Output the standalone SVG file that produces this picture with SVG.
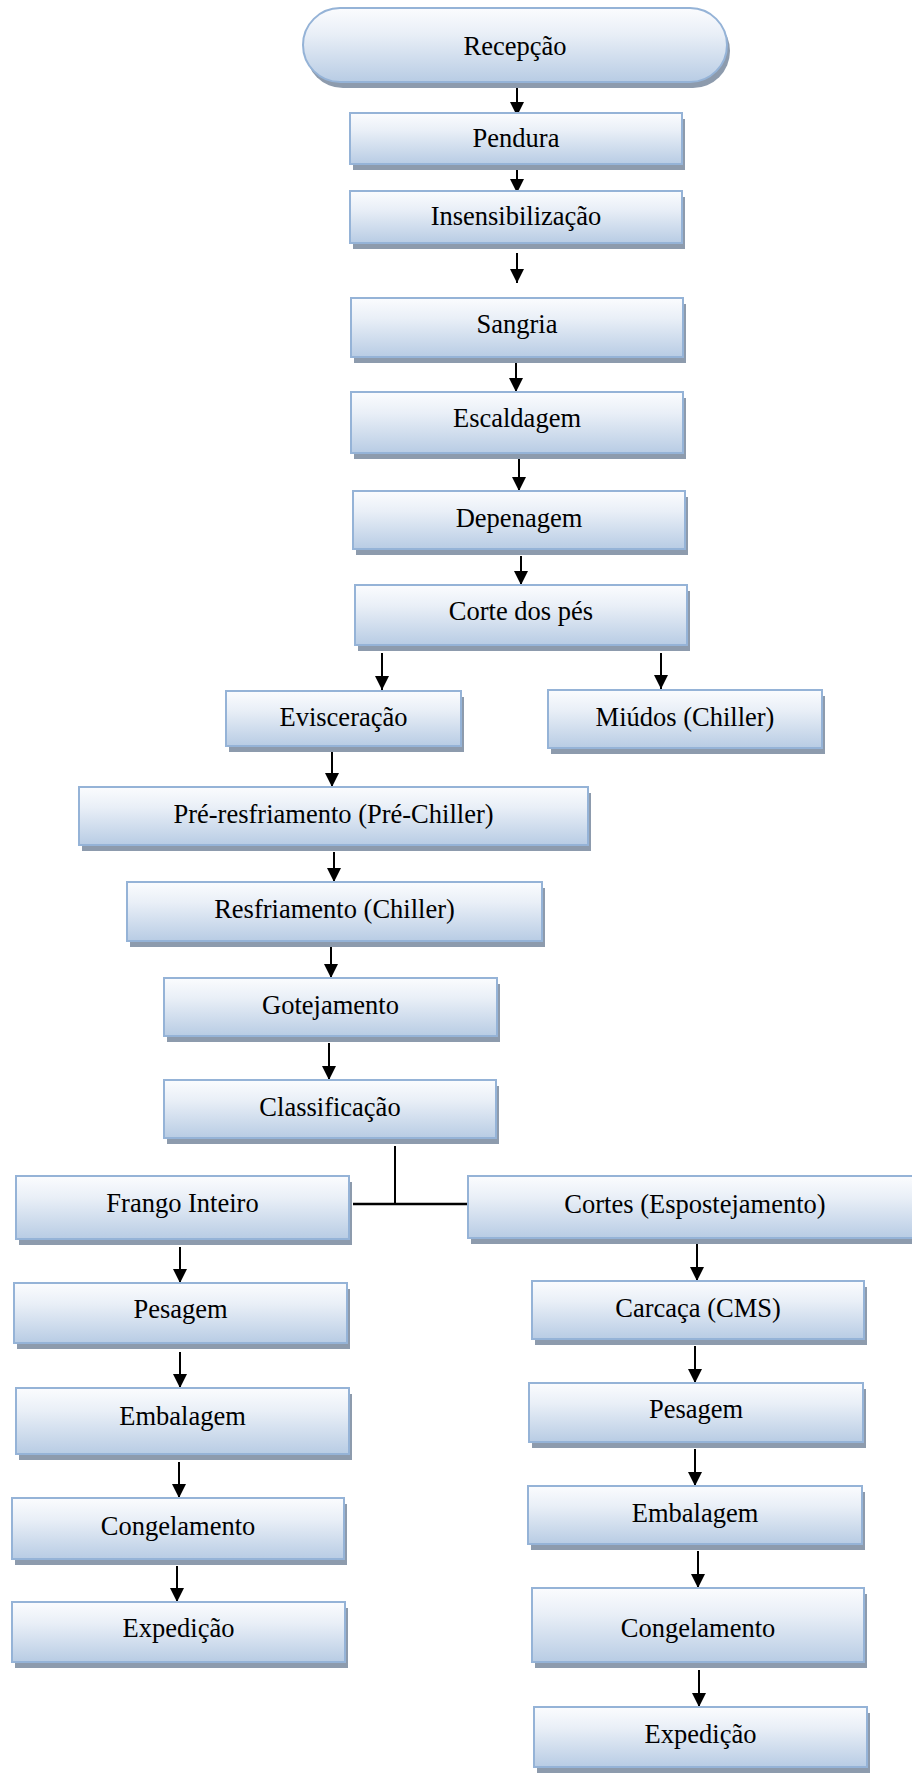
<svg xmlns="http://www.w3.org/2000/svg" width="912" height="1773" viewBox="0 0 912 1773">
<defs>
<linearGradient id="g" x1="0" y1="0" x2="0" y2="1">
<stop offset="0" stop-color="#fbfcfe"/>
<stop offset="0.35" stop-color="#e9eff7"/>
<stop offset="1" stop-color="#b8cce4"/>
</linearGradient>
<marker id="ah" viewBox="0 0 14 14" refX="14" refY="7" markerWidth="14" markerHeight="14" markerUnits="userSpaceOnUse" orient="auto">
<path d="M0,0 L14,7 L0,14 z" fill="#000"/>
</marker>
<style>
.sh{fill:#8d9bad}
.bx{fill:url(#g);stroke:#95b3d7;stroke-width:2}
.t{font-family:"Liberation Serif","Times New Roman",serif;font-size:26.5px;fill:#000;text-anchor:middle}
.c{stroke:#000;stroke-width:2;fill:none}
.a{marker-end:url(#ah)}
</style>
</defs>
<rect width="912" height="1773" fill="#fff"/>
<g id="connectors">
<path class="c a" d="M517,87 V116"/>
<path class="c a" d="M517,170 V193"/>
<path class="c a" d="M517,253 V283"/>
<path class="c a" d="M516,362 V392"/>
<path class="c a" d="M519,459 V491"/>
<path class="c a" d="M521,556 V585"/>
<path class="c a" d="M382,653 V690"/>
<path class="c a" d="M661,653 V689"/>
<path class="c a" d="M332,752 V787"/>
<path class="c a" d="M334,852 V882"/>
<path class="c a" d="M331,947 V978"/>
<path class="c a" d="M329,1043 V1080"/>
<path class="c" d="M395,1146 V1204"/>
<path class="c" style="stroke-width:2.5" d="M353,1204 H468"/>
<path class="c a" d="M180,1247 V1283"/>
<path class="c a" d="M180,1352 V1388"/>
<path class="c a" d="M179,1462 V1498"/>
<path class="c a" d="M177,1566 V1602"/>
<path class="c a" d="M697,1244 V1281"/>
<path class="c a" d="M695,1346 V1383"/>
<path class="c a" d="M695,1449 V1486"/>
<path class="c a" d="M698,1551 V1588"/>
<path class="c a" d="M699,1670 V1707"/>
</g>
<g id="recepcao"><rect class="sh" x="306" y="14" width="424" height="74" rx="37"/><rect class="bx" x="303" y="8" width="424" height="74" rx="37"/><text class="t" x="515" y="55">Recepção</text></g>
<g id="pendura"><rect class="sh" x="353" y="119" width="332" height="51"/><rect class="bx" x="350" y="113" width="332" height="51"/><text class="t" x="516" y="147">Pendura</text></g>
<g id="insensibilizacao"><rect class="sh" x="353" y="197" width="332" height="52"/><rect class="bx" x="350" y="191" width="332" height="52"/><text class="t" x="516" y="225">Insensibilização</text></g>
<g id="sangria"><rect class="sh" x="354" y="304" width="332" height="59"/><rect class="bx" x="351" y="298" width="332" height="59"/><text class="t" x="517" y="333">Sangria</text></g>
<g id="escaldagem"><rect class="sh" x="354" y="398" width="332" height="61"/><rect class="bx" x="351" y="392" width="332" height="61"/><text class="t" x="517" y="427">Escaldagem</text></g>
<g id="depenagem"><rect class="sh" x="356" y="497" width="332" height="58"/><rect class="bx" x="353" y="491" width="332" height="58"/><text class="t" x="519" y="527">Depenagem</text></g>
<g id="corte"><rect class="sh" x="358" y="591" width="332" height="60"/><rect class="bx" x="355" y="585" width="332" height="60"/><text class="t" x="521" y="620">Corte dos pés</text></g>
<g id="evisceracao"><rect class="sh" x="229" y="697" width="235" height="55"/><rect class="bx" x="226" y="691" width="235" height="55"/><text class="t" x="343.5" y="726">Evisceração</text></g>
<g id="miudos"><rect class="sh" x="551" y="696" width="274" height="58"/><rect class="bx" x="548" y="690" width="274" height="58"/><text class="t" x="685" y="726">Miúdos (Chiller)</text></g>
<g id="preresfriamento"><rect class="sh" x="82" y="793" width="509" height="58"/><rect class="bx" x="79" y="787" width="509" height="58"/><text class="t" x="333.5" y="823">Pré-resfriamento (Pré-Chiller)</text></g>
<g id="resfriamento"><rect class="sh" x="130" y="888" width="415" height="59"/><rect class="bx" x="127" y="882" width="415" height="59"/><text class="t" x="334.5" y="918">Resfriamento (Chiller)</text></g>
<g id="gotejamento"><rect class="sh" x="167" y="984" width="333" height="58"/><rect class="bx" x="164" y="978" width="333" height="58"/><text class="t" x="330.5" y="1014">Gotejamento</text></g>
<g id="classificacao"><rect class="sh" x="167" y="1086" width="332" height="58"/><rect class="bx" x="164" y="1080" width="332" height="58"/><text class="t" x="330" y="1116">Classificação</text></g>
<g id="frango"><rect class="sh" x="19" y="1182" width="333" height="63"/><rect class="bx" x="16" y="1176" width="333" height="63"/><text class="t" x="182.5" y="1212">Frango Inteiro</text></g>
<g id="pesagem-l"><rect class="sh" x="17" y="1289" width="333" height="60"/><rect class="bx" x="14" y="1283" width="333" height="60"/><text class="t" x="180.5" y="1318">Pesagem</text></g>
<g id="embalagem-l"><rect class="sh" x="19" y="1394" width="333" height="66"/><rect class="bx" x="16" y="1388" width="333" height="66"/><text class="t" x="182.5" y="1425">Embalagem</text></g>
<g id="congelamento-l"><rect class="sh" x="15" y="1504" width="332" height="61"/><rect class="bx" x="12" y="1498" width="332" height="61"/><text class="t" x="178" y="1535">Congelamento</text></g>
<g id="expedicao-l"><rect class="sh" x="15" y="1608" width="333" height="60"/><rect class="bx" x="12" y="1602" width="333" height="60"/><text class="t" x="178.5" y="1637">Expedição</text></g>
<g id="cortes"><rect class="sh" x="471" y="1182" width="454" height="62"/><rect class="bx" x="468" y="1176" width="454" height="62"/><text class="t" x="695" y="1213">Cortes (Espostejamento)</text></g>
<g id="carcaca"><rect class="sh" x="535" y="1287" width="332" height="58"/><rect class="bx" x="532" y="1281" width="332" height="58"/><text class="t" x="698" y="1317">Carcaça (CMS)</text></g>
<g id="pesagem-r"><rect class="sh" x="532" y="1389" width="334" height="59"/><rect class="bx" x="529" y="1383" width="334" height="59"/><text class="t" x="696" y="1418">Pesagem</text></g>
<g id="embalagem-r"><rect class="sh" x="531" y="1492" width="334" height="58"/><rect class="bx" x="528" y="1486" width="334" height="58"/><text class="t" x="695" y="1522">Embalagem</text></g>
<g id="congelamento-r"><rect class="sh" x="535" y="1594" width="332" height="74"/><rect class="bx" x="532" y="1588" width="332" height="74"/><text class="t" x="698" y="1637">Congelamento</text></g>
<g id="expedicao-r"><rect class="sh" x="537" y="1713" width="333" height="60"/><rect class="bx" x="534" y="1707" width="333" height="60"/><text class="t" x="700.5" y="1743">Expedição</text></g>
</svg>
